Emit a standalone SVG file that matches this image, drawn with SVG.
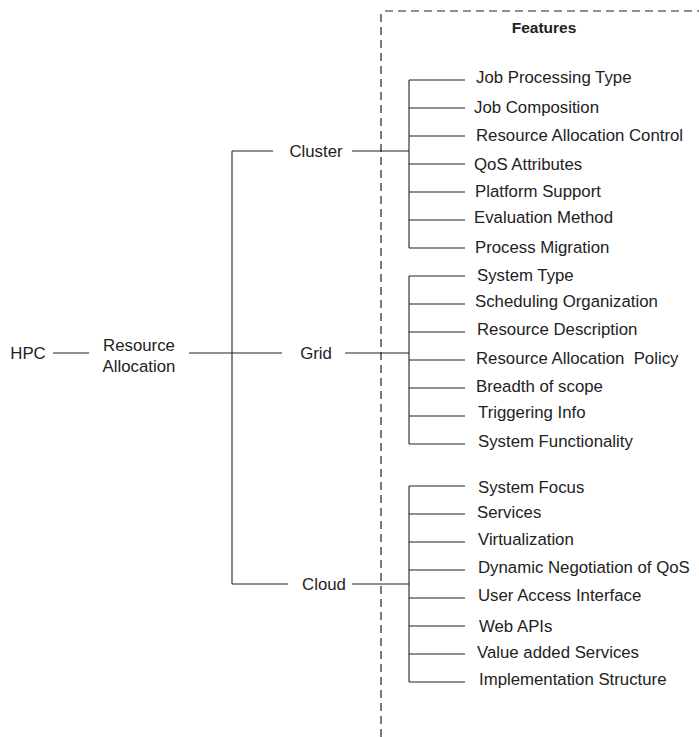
<svg xmlns="http://www.w3.org/2000/svg" width="699" height="737" viewBox="0 0 699 737">
<style>
text{font-family:"Liberation Sans",Arial,sans-serif;font-size:16.8px;fill:#222;white-space:pre;}
.b{font-weight:bold;font-size:15.5px;}
.m{text-anchor:middle;}
.c line{stroke:#222;stroke-width:1.1;}
.d{stroke:#222;stroke-width:1.2;stroke-dasharray:8 5;fill:none;}
</style>
<rect width="699" height="737" fill="#fff"/>
<g id="features-box">
<path class="d" d="M381 737 V11 M385 11 H699"/>
<text class="b m" x="544" y="33">Features</text>
</g>
<g class="c" id="connectors">
<line x1="53" y1="353" x2="89" y2="353"/>
<line x1="189" y1="353" x2="282" y2="353"/>
<line x1="232" y1="151" x2="232" y2="584"/>
<line x1="232" y1="151" x2="273" y2="151"/>
<line x1="232" y1="584" x2="288" y2="584"/>
<line x1="352" y1="151" x2="409" y2="151"/>
<line x1="345" y1="353" x2="409" y2="353"/>
<line x1="352" y1="584" x2="409" y2="584"/>
<line x1="409" y1="80" x2="409" y2="248"/>
<line x1="409" y1="80" x2="465" y2="80"/>
<line x1="409" y1="108" x2="465" y2="108"/>
<line x1="409" y1="136" x2="465" y2="136"/>
<line x1="409" y1="164" x2="465" y2="164"/>
<line x1="409" y1="192" x2="465" y2="192"/>
<line x1="409" y1="220" x2="465" y2="220"/>
<line x1="409" y1="248" x2="465" y2="248"/>
<line x1="409" y1="276" x2="409" y2="444"/>
<line x1="409" y1="276" x2="465" y2="276"/>
<line x1="409" y1="304" x2="465" y2="304"/>
<line x1="409" y1="332" x2="465" y2="332"/>
<line x1="409" y1="360" x2="465" y2="360"/>
<line x1="409" y1="388" x2="465" y2="388"/>
<line x1="409" y1="416" x2="465" y2="416"/>
<line x1="409" y1="444" x2="465" y2="444"/>
<line x1="409" y1="486" x2="409" y2="682"/>
<line x1="409" y1="486" x2="465" y2="486"/>
<line x1="409" y1="514" x2="465" y2="514"/>
<line x1="409" y1="542" x2="465" y2="542"/>
<line x1="409" y1="570" x2="465" y2="570"/>
<line x1="409" y1="598" x2="465" y2="598"/>
<line x1="409" y1="626" x2="465" y2="626"/>
<line x1="409" y1="654" x2="465" y2="654"/>
<line x1="409" y1="682" x2="465" y2="682"/>
</g>
<g id="hpc"><text class="m" x="28" y="359">HPC</text></g>
<g id="resource-allocation"><text class="m" x="139" y="351">Resource</text><text class="m" x="139" y="372">Allocation</text></g>
<g id="cluster"><text class="m" x="316" y="157">Cluster</text></g>
<g id="grid"><text class="m" x="316" y="359">Grid</text></g>
<g id="cloud"><text class="m" x="324" y="590">Cloud</text></g>
<g id="cluster-features">
<text x="476" y="83">Job Processing Type</text>
<text x="474" y="113">Job Composition</text>
<text x="476" y="141">Resource Allocation Control</text>
<text x="474" y="170">QoS Attributes</text>
<text x="475" y="197">Platform Support</text>
<text x="474" y="223">Evaluation Method</text>
<text x="475" y="253">Process Migration</text>
</g>
<g id="grid-features">
<text x="477" y="281">System Type</text>
<text x="475" y="307">Scheduling Organization</text>
<text x="477" y="335">Resource Description</text>
<text x="476" y="364">Resource Allocation  Policy</text>
<text x="476" y="392">Breadth of scope</text>
<text x="478" y="418">Triggering Info</text>
<text x="478" y="447">System Functionality</text>
</g>
<g id="cloud-features">
<text x="478" y="493">System Focus</text>
<text x="477" y="518">Services</text>
<text x="478" y="545">Virtualization</text>
<text x="478" y="573">Dynamic Negotiation of QoS</text>
<text x="478" y="601">User Access Interface</text>
<text x="479" y="632">Web APIs</text>
<text x="477" y="658">Value added Services</text>
<text x="479" y="685">Implementation Structure</text>
</g>
</svg>
